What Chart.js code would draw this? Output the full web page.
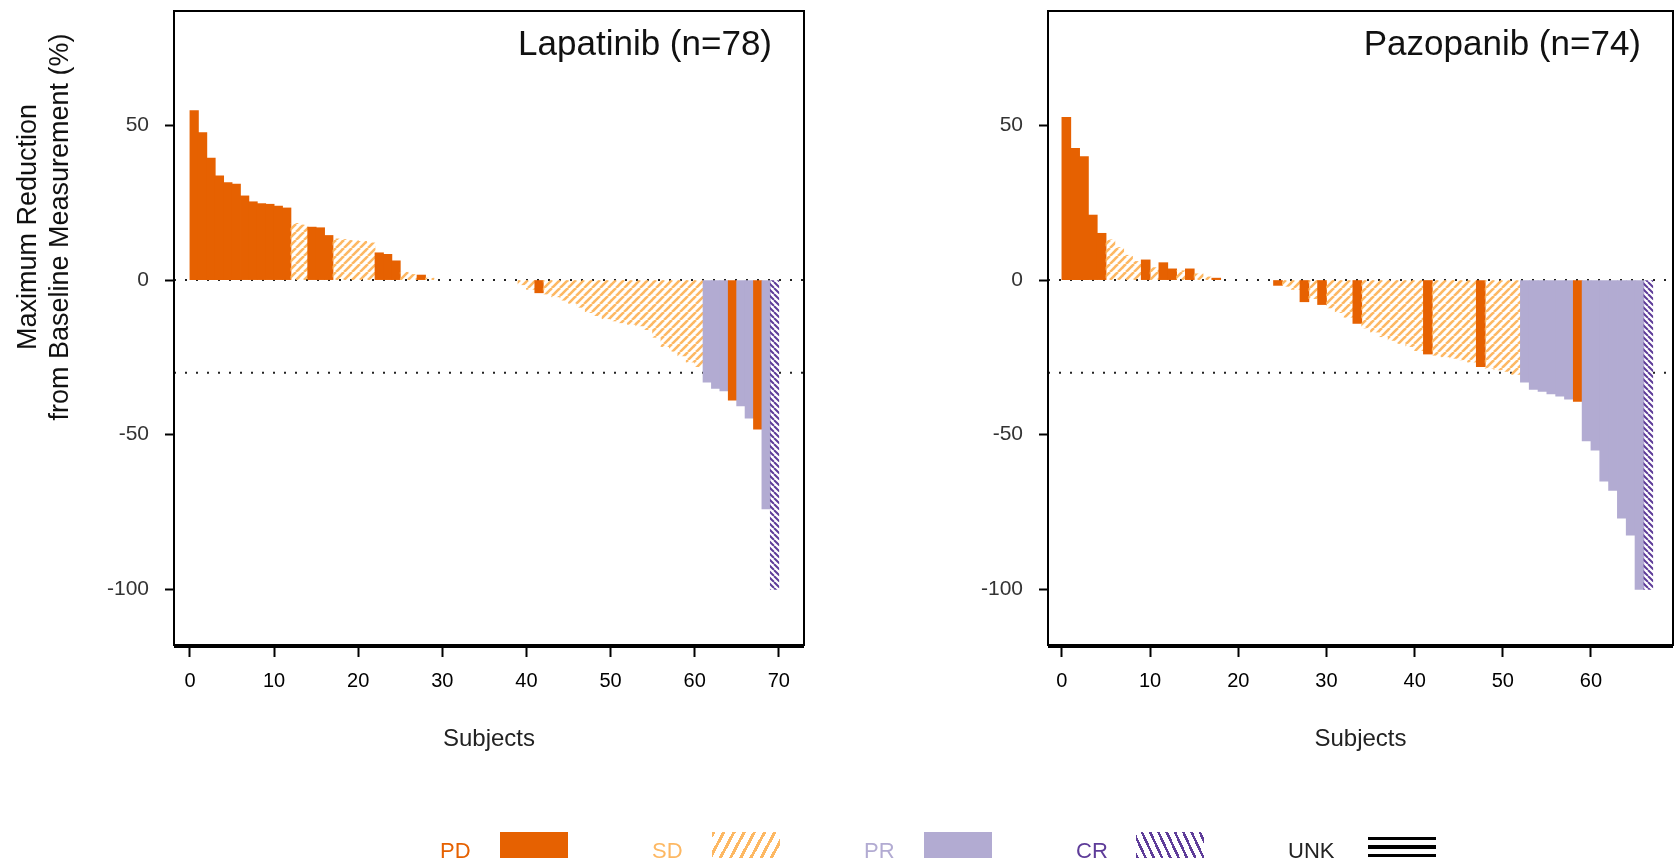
<!DOCTYPE html>
<html>
<head>
<meta charset="utf-8">
<title>Maximum reduction from baseline</title>
<script src="https://cdn.jsdelivr.net/npm/chart.js@4/dist/chart.umd.min.js"></script>
<style>
	body { margin: 0; background: #fff; }
	#wrap { position: relative; width: 1676px; height: 864px; overflow: hidden; font-family: "Liberation Sans", Arial, sans-serif; }
	canvas { position: absolute; top: 0; }
	#lapChart { left: 0; }
	#pazChart { left: 838px; }
	.lg-label { position: absolute; top: 840px; font-size: 22px; line-height: 22px; white-space: nowrap; }
	.lg-box { position: absolute; top: 832px; width: 68px; height: 26px; }
</style>
</head>
<body>
<div id="wrap">
	<canvas id="lapChart" width="838" height="864"></canvas>
	<canvas id="pazChart" width="838" height="864"></canvas>
	<div id="legend"></div>
</div>
<script>
// Lapatinib arm, subjects sorted by change
const lapChange = [
	54.8, 47.7, 39.4, 33.7, 31.5, 31.0, 27.2, 25.3, 24.7, 24.5, 23.9, 23.3,
	18.3, 17.8, 17.1, 16.9, 14.4, 13.3, 13.1, 12.8, 12.5, 12.0, 8.8, 8.3, 6.2, 2.5, 1.8, 1.6, 0.6,
	0, 0, 0, 0, 0, 0, 0, 0, 0, 0,
	-1.5, -3.0, -4.1,
	-4.5, -5.4, -6.5, -7.5, -8.8, -10.5, -11.5, -12.5, -13.2, -13.8, -14.3, -14.8, -16.0, -18.5, -21.5, -23.0, -24.5, -26.5, -28.0,
	-33.0, -35.0, -35.8, -38.8, -40.7, -44.6, -48.2, -74.0, -100,
];
const lapResponse = [
	"PD", "PD", "PD", "PD", "PD", "PD", "PD", "PD", "PD", "PD", "PD", "PD",
	"SD", "SD", "PD", "PD", "PD", "SD", "SD", "SD", "SD", "SD", "PD", "PD", "PD", "SD", "SD", "PD", "SD",
	"SD", "SD", "SD", "SD", "SD", "SD", "SD", "SD", "SD", "SD",
	"SD", "SD", "PD",
	"SD", "SD", "SD", "SD", "SD", "SD", "SD", "SD", "SD", "SD", "SD", "SD", "SD", "SD", "SD", "SD", "SD", "SD", "SD",
	"PR", "PR", "PR", "PD", "PR", "PR", "PD", "PR", "CR",
];

// Pazopanib arm
const pazChange = [
	52.6, 42.6, 39.9, 21.0, 15.1,
	13.0, 10.5, 8.0, 6.0, 6.5, 4.0, 5.6, 3.6, 3.0, 3.6, 2.0, 1.0, 0.6,
	0, 0, 0, 0, 0, 0,
	-1.7, -2.0, -3.0, -7.0, -6.0, -7.9, -9.0, -10.5, -12.0, -14.0,
	-15.5, -16.8, -18.3, -19.5, -20.5, -21.5, -22.8, -23.9,
	-24.3, -24.8, -25.3, -25.8, -26.5, -28.0, -28.5, -29.0, -29.5, -30.5,
	-33.0, -35.3, -36.0, -36.8, -37.5, -38.5, -39.2,
	-52.0, -55.0, -65.0, -68.0, -77.0, -82.5, -100, -100,
];
const pazResponse = [
	"PD", "PD", "PD", "PD", "PD",
	"SD", "SD", "SD", "SD", "PD", "SD", "PD", "PD", "SD", "PD", "SD", "SD", "PD",
	"SD", "SD", "SD", "SD", "SD", "SD",
	"PD", "SD", "SD", "PD", "SD", "PD", "SD", "SD", "SD", "PD",
	"SD", "SD", "SD", "SD", "SD", "SD", "SD", "PD",
	"SD", "SD", "SD", "SD", "SD", "PD", "SD", "SD", "SD", "SD",
	"PR", "PR", "PR", "PR", "PR", "PR", "PD",
	"PR", "PR", "PR", "PR", "PR", "PR", "PR", "CR",
];

const lapTicksX = [0, 10, 20, 30, 40, 50, 60, 70];
const pazTicksX = [0, 10, 20, 30, 40, 50, 60];
const ticksY = [-100, -50, 0, 50];
const referenceLines = [0, -30];
const legendLabels = ["PD", "SD", "PR", "CR", "UNK"];

Chart.defaults.font.family = "'Liberation Sans', Arial, sans-serif";

function hatch(color, size, width, forward) {
	const tile = document.createElement("canvas");
	tile.width = size;
	tile.height = size;
	const g = tile.getContext("2d");
	g.strokeStyle = color;
	g.lineWidth = width;
	g.beginPath();
	for (let k = -1; k <= 1; k++) {
		if (forward) {
			g.moveTo(k * size, size);
			g.lineTo(k * size + size, 0);
		} else {
			g.moveTo(k * size, 0);
			g.lineTo(k * size + size, size);
		}
	}
	g.stroke();
	return g.createPattern(tile, "repeat");
}

const fills = {
	PD: "#e66101",
	SD: hatch("#fdb863", 8, 2.6, true),
	PR: "#b2abd2",
	CR: hatch("#5e3c99", 6, 2, false),
};

const panelDecor = {
	id: "panelDecor",
	beforeDatasetsDraw(chart) {
		const { ctx, chartArea } = chart;
		ctx.save();
		ctx.strokeStyle = "#222";
		ctx.lineWidth = 2;
		ctx.setLineDash([2, 9]);
		referenceLines.forEach((v) => {
			const py = chart.scales.y.getPixelForValue(v);
			ctx.beginPath();
			ctx.moveTo(chartArea.left, py);
			ctx.lineTo(chartArea.right, py);
			ctx.stroke();
		});
		ctx.restore();
	},
	afterDraw(chart, args, opts) {
		const { ctx, chartArea } = chart;
		ctx.save();
		ctx.strokeStyle = "#000";
		ctx.lineWidth = 2;
		ctx.strokeRect(
			chartArea.left,
			chartArea.top,
			chartArea.right - chartArea.left,
			chartArea.bottom - chartArea.top
		);
		ctx.beginPath();
		ctx.moveTo(chartArea.left, chartArea.bottom + 2);
		ctx.lineTo(chartArea.right, chartArea.bottom + 2);
		ctx.stroke();

		ctx.fillStyle = "#111";
		ctx.font = "35px 'Liberation Sans', Arial, sans-serif";
		ctx.textAlign = "right";
		ctx.textBaseline = "middle";
		ctx.fillText(opts.title, chartArea.right - 32, 45);

		if (opts.yTitle) {
			ctx.font = "27px 'Liberation Sans', Arial, sans-serif";
			ctx.textAlign = "center";
			opts.yTitle.forEach((line, i) => {
				ctx.save();
				ctx.translate(29 + i * 32, 227);
				ctx.rotate(-Math.PI / 2);
				ctx.fillText(line, 0, 0);
				ctx.restore();
			});
		}
		ctx.restore();
	},
};

function waterfall(id, values, responses, xMin, xMax, xTicks, title, yTitle, axisWidth, padRight) {
	const ctx = document.getElementById(id).getContext("2d");
	return new Chart(ctx, {
		type: "bar",
		data: {
			datasets: [
				{
					data: values.map((v, i) => ({ x: i + 0.5, y: v })),
					backgroundColor: responses.map((r) => fills[r]),
					borderWidth: 0,
					barPercentage: 1,
					categoryPercentage: 1,
					inflateAmount: (c) => (c.raw && c.raw.y === 0 ? 0 : 0.4),
				},
			],
		},
		options: {
			responsive: false,
			animation: false,
			events: [],
			layout: { padding: { top: 11, right: padRight, bottom: 99, left: 0 } },
			plugins: {
				legend: { display: false },
				tooltip: { enabled: false },
				panelDecor: { title: title, yTitle: yTitle },
			},
			scales: {
				x: {
					type: "linear",
					min: xMin,
					max: xMax,
					offset: false,
					afterBuildTicks: (scale) => {
						scale.ticks = xTicks.map((v) => ({ value: v }));
					},
					afterFit: (scale) => {
						scale.height = 120;
						scale.paddingLeft = 0;
						scale.paddingRight = 0;
					},
					grid: {
						offset: false,
						drawOnChartArea: false,
						tickLength: 12,
						tickWidth: 2,
						tickColor: "#000",
					},
					border: { display: false },
					ticks: { color: "#000", font: { size: 20 }, padding: 12, maxRotation: 0 },
					title: {
						display: true,
						text: "Subjects",
						color: "#222",
						font: { size: 24 },
						padding: { top: 0, bottom: 11 },
					},
				},
				y: {
					min: -118,
					max: 87,
					afterBuildTicks: (scale) => {
						scale.ticks = ticksY.map((v) => ({ value: v }));
					},
					afterFit: (scale) => {
						scale.width = axisWidth;
						scale.paddingTop = 0;
						scale.paddingBottom = 0;
					},
					grid: {
						drawOnChartArea: false,
						tickLength: 9,
						tickWidth: 2,
						tickColor: "#000",
					},
					border: { display: false },
					ticks: { color: "#333", font: { size: 21 }, padding: 16 },
				},
			},
		},
		plugins: [panelDecor],
	});
}

const lapChart = waterfall(
	"lapChart", lapChange, lapResponse, -1.9, 73.0, lapTicksX,
	"Lapatinib (n=78)",
	["Maximum Reduction", "from Baseline Measurement (%)"],
	174, 34
);
const pazChart = waterfall(
	"pazChart", pazChange, pazResponse, -1.58, 69.3, pazTicksX,
	"Pazopanib (n=74)", null, 210, 3
);

// legend across the bottom
const legendColors = { PD: "#e66101", SD: "#fdb863", PR: "#b2abd2", CR: "#5e3c99", UNK: "#222" };
const legendSwatch = {
	PD: "background:#e66101;",
	SD: "background:repeating-linear-gradient(118deg,#fdb863 0 3px,transparent 3px 9px);",
	PR: "background:#b2abd2;",
	CR: "background:repeating-linear-gradient(65deg,#5e3c99 0 2.5px,transparent 2.5px 7.5px);",
	UNK: "top:837px;height:21px;background:repeating-linear-gradient(to bottom,#000 0 3px,transparent 3px 8.5px);",
};
const legendEl = document.getElementById("legend");
legendLabels.forEach((name, k) => {
	const left = 440 + k * 212;
	const label = document.createElement("div");
	label.className = "lg-label";
	label.style.left = left + "px";
	label.style.color = legendColors[name];
	label.textContent = name;
	legendEl.appendChild(label);

	const box = document.createElement("div");
	box.className = "lg-box";
	box.style.cssText = legendSwatch[name];
	box.style.left = (name === "UNK" ? left + 80 : left + 60) + "px";
	legendEl.appendChild(box);
});
</script>
</body>
</html>
